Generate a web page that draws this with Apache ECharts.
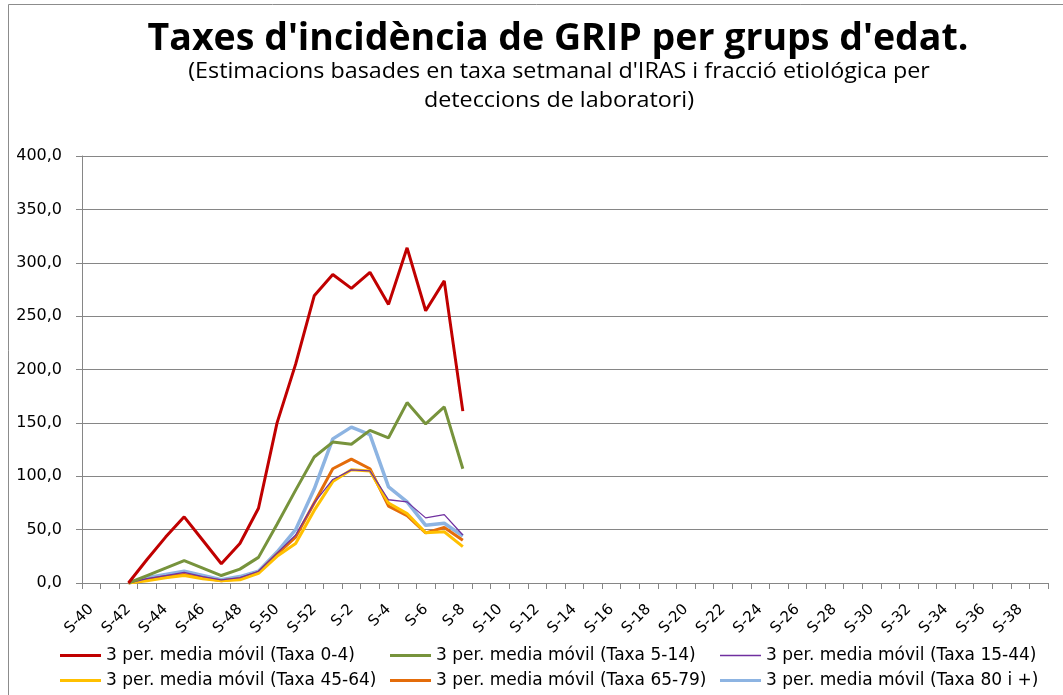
<!DOCTYPE html>
<html>
<head>
<meta charset="utf-8">
<script src="https://cdn.jsdelivr.net/npm/echarts@6/dist/echarts.min.js"></script>
<style>html,body{margin:0;padding:0;background:#fff}#c{width:1063px;height:695px}</style>
</head>
<body>
<div id="c"></div>
<script>
// Categories: weeks S-40..S-52 then S-1..S-39
const weeksA = [40,41,42,43,44,45,46,47,48,49,50,51,52];
const weeksB = [1,2,3,4,5,6,7,8,9,10,11,12,13,14,15,16,17,18,19,20,21,22,23,24,25,26,27,28,29,30,31,32,33,34,35,36,37,38,39];
const categories = weeksA.concat(weeksB).map(w => 'S-' + w);
const yTicks = [0, 50, 100, 150, 200, 250, 300, 350, 400];

const seriesNames = [
  '3 per. media móvil (Taxa 0-4)',
  '3 per. media móvil (Taxa 5-14)',
  '3 per. media móvil (Taxa 15-44)',
  '3 per. media móvil (Taxa 45-64)',
  '3 per. media móvil (Taxa 65-79)',
  '3 per. media móvil (Taxa 80 i +)'
];
// values from S-40 onward (null = no data)
const taxa0_4   = [null,null,0,22,43,62,40,18,37,70,150,205,269,289,276,291,261,314,255,283,161];
const taxa5_14  = [null,null,0,7,14,21,14,7,13,24,55,87,118,132,130,143,136,169,149,165,107];
const taxa15_44 = [null,null,0,4,7,10,6,3,5,11,28,45,75,97,106,105,78,76,61,64,45];
const taxa45_64 = [null,null,0,2,5,7,4,2,3,9,25,37,68,95,106,105,75,65,47,48,34];
const taxa65_79 = [null,null,0,3,6,8,5,2,4,10,27,43,75,107,116,107,72,63,47,52,40];
const taxa80    = [null,null,0,5,8,11,7,3,6,11,29,50,88,135,146,139,90,76,54,56,44];

const colors = ['#C00000','#77933C','#7030A0','#FFC000','#E46C0A','#8DB4E2'];
const widths = [3,3,1.3,3,3,3.5];
const seriesData = [taxa0_4,taxa5_14,taxa15_44,taxa45_64,taxa65_79,taxa80];

const chart = echarts.init(document.getElementById('c'), null, {renderer:'canvas'});
const legendFont = {fontFamily:'DejaVu Sans', fontSize:17, color:'#000'};
const legendLeft = [60, 390, 720, 60, 390, 720];
const legendTop  = [647, 647, 647, 672, 672, 672];
const legends = seriesNames.map((n,i)=>({
  data:[n], left:legendLeft[i], top:legendTop[i], icon:'rect', itemWidth:41,
  itemHeight: i === 2 ? 1.5 : 3, textStyle:legendFont, padding:0, selectedMode:false
}));
chart.setOption({
  animation:false,
  backgroundColor:'#fff',
  graphic:[
    {type:'rect', shape:{x:8.5,y:4.5,width:1200,height:800}, style:{fill:'none',stroke:'#8c8c8c',lineWidth:1}, silent:true},
    {type:'text', x:558, y:20, style:{text:"Taxes d'incidència de GRIP per grups d'edat.", fontFamily:'Open Sans', fontWeight:'bold', fontSize:37.5, fill:'#000', align:'center'}},
    {type:'text', x:559, y:61, scaleX:1.06, style:{text:"(Estimacions basades en taxa setmanal d'IRAS i fracció etiológica per", fontFamily:'Open Sans', fontSize:22, fill:'#000', align:'center'}},
    {type:'text', x:559, y:90, scaleX:1.06, style:{text:"deteccions de laboratori)", fontFamily:'Open Sans', fontSize:22, fill:'#000', align:'center'}}
  ],
  legend: legends,
  grid:{left:82, right:15, top:156, bottom:112, containLabel:false},
  xAxis:{
    type:'category', data:categories, boundaryGap:true,
    axisLine:{lineStyle:{color:'#868686',width:1}},
    axisTick:{show:true, length:6, interval:0, lineStyle:{color:'#868686'}},
    axisLabel:{interval:1, rotate:45, fontFamily:'DejaVu Sans', fontSize:15, color:'#000', margin:24}
  },
  yAxis:{
    type:'value', min:0, max:400, interval:50,
    axisLine:{show:true, lineStyle:{color:'#868686',width:1}},
    axisTick:{show:true, length:6, inside:false, lineStyle:{color:'#868686'}},
    splitLine:{lineStyle:{color:'#868686',width:1}},
    axisLabel:{fontFamily:'DejaVu Sans', fontSize:16, color:'#000', margin:20,
      formatter:v => yTicks.indexOf(v) >= 0 ? v.toFixed(1).replace('.', ',') : ''}
  },
  series: seriesData.map((d,i)=>({
    name:seriesNames[i], type:'line', data:d, showSymbol:false, symbol:'none',
    color:colors[i], lineStyle:{color:colors[i], width:widths[i]}, z: 10 - i,
    connectNulls:false
  }))
});
</script>
</body>
</html>
